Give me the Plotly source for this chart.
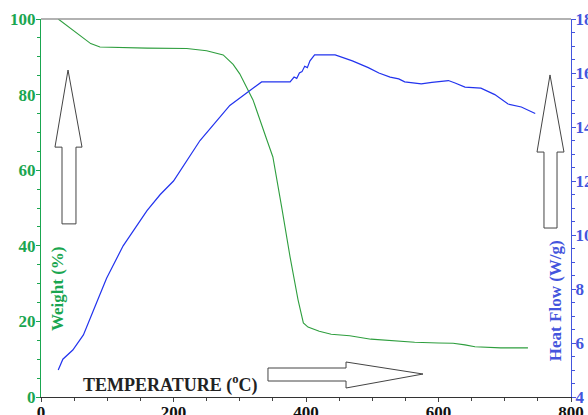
import plotly.graph_objects as go

# Weight (TGA) curve
temp_w = [26, 45, 60, 75, 89, 120, 160, 220, 250, 275, 290, 300, 320, 341, 350, 364, 376, 388, 396,
          403, 420, 438, 466, 498, 530, 564, 600, 622, 640, 655, 694, 735]
weight = [100, 97.5, 95.5, 93.5, 92.6, 92.4, 92.3, 92.2, 91.6, 90.5, 88.0, 85.5, 78.6, 68.0, 63.5,
          49.5, 37.0, 25.7, 19.6, 18.5, 17.4, 16.6, 16.2, 15.3, 14.9, 14.5, 14.3, 14.2, 13.8, 13.3, 13.0, 13.0]

# Heat flow (DSC) curve
temp_h = [26, 33, 48, 64, 84, 99, 124, 160, 180, 200, 240, 285, 333, 376, 382, 386, 390, 394, 398,
          402, 406, 413, 444, 470, 494, 510, 527, 540, 549, 562, 574, 590, 604, 615, 625, 640, 664,
          685, 705, 725, 746]
heat = [5.0, 5.4, 5.74, 6.3, 7.5, 8.4, 9.6, 10.9, 11.5, 12.0, 13.5, 14.8, 15.67, 15.67, 15.85, 15.8,
        16.0, 16.05, 16.25, 16.2, 16.45, 16.67, 16.67, 16.45, 16.2, 16.0, 15.85, 15.78, 15.67, 15.63,
        15.6, 15.65, 15.7, 15.72, 15.63, 15.48, 15.44, 15.2, 14.85, 14.74, 14.5]

x_ticks = [0, 200, 400, 600, 800]
y1_ticks = [0, 20, 40, 60, 80, 100]
y2_ticks = [4, 6, 8, 10, 12, 14, 16, 18]

GREEN = "#1aa650"
GREEN_LINE = "#2e9e3e"
BLUE = "#4455dd"
BLUE_LINE = "#2233ee"
SERIF = "Liberation Serif"

fig = go.Figure()
fig.add_trace(go.Scatter(x=temp_w, y=weight, mode="lines",
                         line=dict(color=GREEN_LINE, width=1.1), yaxis="y", showlegend=False))
fig.add_trace(go.Scatter(x=temp_h, y=heat, mode="lines",
                         line=dict(color=BLUE_LINE, width=1.2), yaxis="y2", showlegend=False))

tickfont = dict(family=SERIF, size=17, weight="bold")

fig.update_layout(
    width=588, height=415,
    margin=dict(l=41, r=17, t=19, b=18, autoexpand=False),
    plot_bgcolor="white", paper_bgcolor="white",
    xaxis=dict(range=[0, 800], tickvals=x_ticks, ticktext=[str(v) for v in x_ticks],
               automargin=False, ticklabelstandoff=-5,
               showgrid=False, zeroline=False, showline=True, linecolor="#333", linewidth=1.2,
               ticks="outside", ticklen=4, tickcolor="#444",
               minor=dict(dtick=50, ticks="outside", ticklen=3, tickcolor="#444"),
               tickfont=dict(tickfont, color="#111")),
    yaxis=dict(range=[0, 100], tickvals=y1_ticks, ticktext=[str(v) for v in y1_ticks],
               automargin=False, ticklabelstandoff=-3,
               showgrid=False, zeroline=False, showline=True, linecolor=GREEN, linewidth=1,
               ticks="outside", ticklen=4, tickcolor=GREEN,
               minor=dict(dtick=5, ticks="outside", ticklen=3, tickcolor=GREEN),
               tickfont=dict(tickfont, color=GREEN)),
    yaxis2=dict(range=[4, 18], tickvals=y2_ticks, ticktext=[str(v) for v in y2_ticks],
                overlaying="y", side="right", automargin=False, ticklabelstandoff=-4,
                showgrid=False, zeroline=False, showline=True, linecolor=BLUE, linewidth=1,
                ticks="outside", ticklen=4, tickcolor=BLUE,
                minor=dict(dtick=0.5, ticks="outside", ticklen=3, tickcolor=BLUE),
                tickfont=dict(tickfont, color=BLUE)),
)

# top border
fig.add_shape(type="line", xref="paper", yref="paper", x0=0, x1=1, y0=1, y1=1,
              line=dict(color="#999", width=1.5))

# arrows (outline shapes), in data coordinates of the x / weight axes
def poly(pts):
    return "M " + " L ".join(f"{x},{y}" for x, y in pts) + " Z"

arrow_style = dict(type="path", xref="x", yref="y", line=dict(color="#444", width=1),
                   fillcolor="white", layer="above")
fig.add_shape(path=poly([(31.7, 45.8), (31.7, 66.1), (21.1, 66.1), (40.8, 86.5),
                         (61.9, 66.1), (52.8, 66.1), (52.8, 45.8)]), **arrow_style)
fig.add_shape(path=poly([(759.2, 44.7), (759.2, 64.8), (748.7, 64.8), (768.3, 85.2),
                         (789.4, 64.8), (778.9, 64.8), (778.9, 44.7)]), **arrow_style)
fig.add_shape(path=poly([(342.6, 7.67), (460.4, 7.67), (460.4, 9.26), (576.6, 6.08),
                         (460.4, 2.38), (460.4, 4.23), (342.6, 4.23)]), **arrow_style)

fig.add_annotation(text="Weight (%)", xref="paper", yref="paper", x=0.030, y=0.288,
                   xanchor="center", yanchor="middle",
                   textangle=-90, showarrow=False,
                   font=dict(family=SERIF, size=17, weight="bold", color=GREEN))
fig.add_annotation(text="Heat Flow (W/g)", xref="paper", yref="paper", x=0.972, y=0.254,
                   xanchor="center", yanchor="middle",
                   textangle=-90, showarrow=False,
                   font=dict(family=SERIF, size=17, weight="bold", color=BLUE))
fig.add_annotation(text="TEMPERATURE (<sup>o</sup>C)", xref="paper", yref="paper", x=0.243, y=0.034,
                   xanchor="center", yanchor="middle",
                   showarrow=False,
                   font=dict(family=SERIF, size=18, weight="bold", color="#222"))

fig.write_html("out.html", config={"displayModeBar": False},
               post_script="document.body.style.margin='0';document.body.style.overflow='hidden';")
